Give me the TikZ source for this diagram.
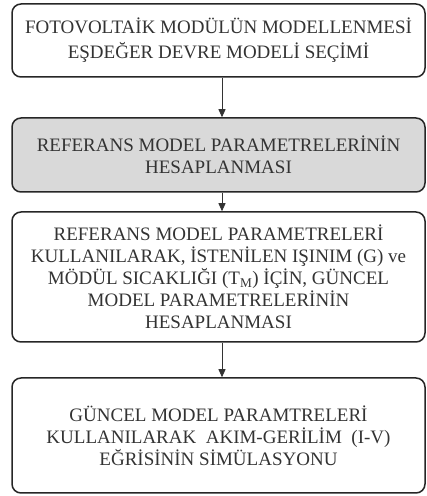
\documentclass[tikz,border=0pt]{standalone}
\usepackage{fontspec}
\setmainfont{Liberation Serif}
\usetikzlibrary{arrows.meta}
\begin{document}
\begin{tikzpicture}[x=1pt,y=1pt,
  box/.style={draw=black!85, line width=1.5pt, rounded corners=9pt, minimum width=413pt,
    align=center, text=black!80, inner sep=0pt,
    font=\fontsize{19}{22}\selectfont},
  shaded/.style={fill=black!15},
  conn/.style={draw=black!80, line width=0.8pt, -{Triangle[width=7pt,length=8pt]}}]
\useasboundingbox (0,0) rectangle (427,496);
\node[box, minimum height=73pt, font=\fontsize{19}{25}\selectfont] (b1) at (218.5,455.5) {FOTOVOLTAİK MODÜLÜN MODELLENMESİ\\EŞDEĞER DEVRE MODELİ SEÇİMİ};
\node[box, shaded, minimum height=74pt] (b2) at (218.5,341) {REFERANS MODEL PARAMETRELERİNİN\\HESAPLANMASI};
\node[box, minimum height=130pt] (b3) at (218.5,219) {REFERANS MODEL PARAMETRELERİ\\KULLANILARAK, İSTENİLEN IŞINIM (G) ve\\MÖDÜL SICAKLIĞI (T\textsubscript{M}) İÇİN, GÜNCEL\\MODEL PARAMETRELERİNİN\\HESAPLANMASI};
\node[box, minimum height=115pt] (b4) at (218.5,60.5) {GÜNCEL MODEL PARAMTRELERİ\\KULLANILARAK~ AKIM-GERİLİM~ (I-V)\\EĞRİSİNİN SİMÜLASYONU};
\draw[conn] ([xshift=3.5pt]b1.south) -- ([xshift=3.5pt]b2.north);
\draw[conn] ([xshift=3.5pt]b2.south) -- ([xshift=3.5pt]b3.north);
\draw[conn] ([xshift=3.5pt]b3.south) -- ([xshift=3.5pt]b4.north);
\end{tikzpicture}
\end{document}
